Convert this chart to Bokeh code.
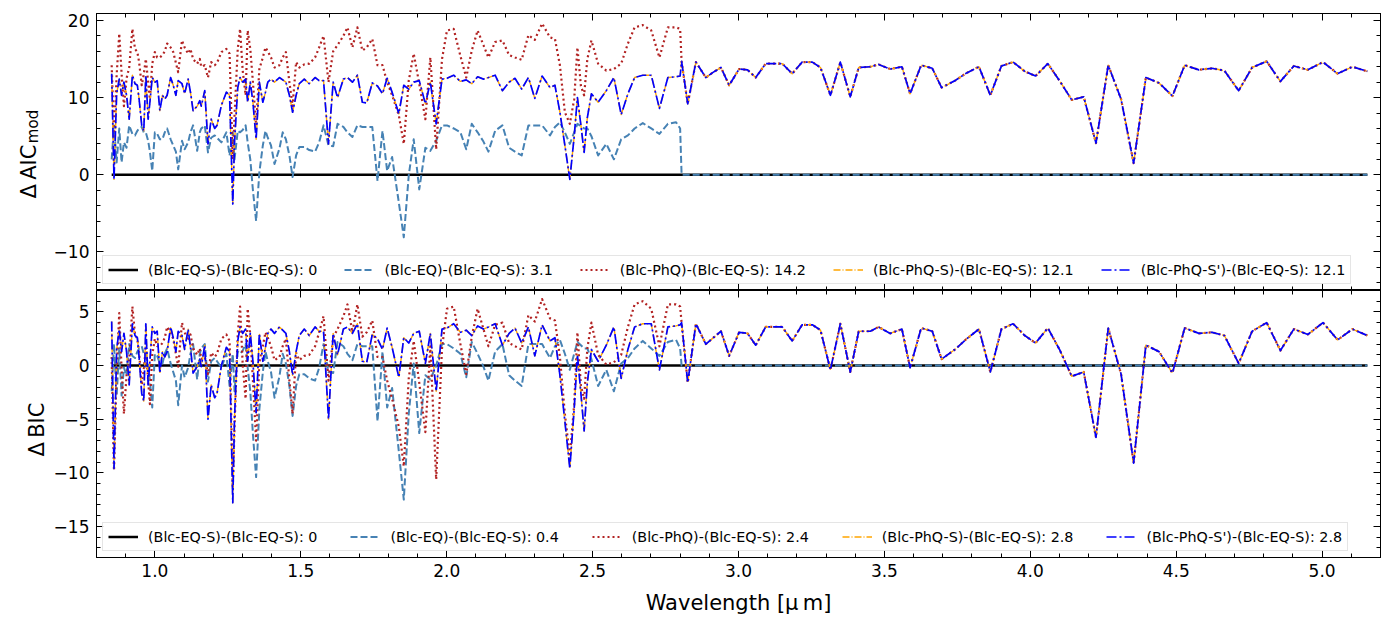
import math
from bokeh.plotting import figure
from bokeh.models import (ColumnDataSource, Range1d, LinearAxis, SingleIntervalTicker, FixedTicker,
                          CustomJSTickFormatter, Legend, LegendItem, Label)
from bokeh.layouts import column, row
from bokeh.embed import file_html
from bokeh.resources import INLINE

FONT = "DejaVu Sans"

# ---------------- data ----------------
# wavelength grid, dense (short-wavelength) part
wl_dense = [
    0.852, 0.860, 0.869, 0.878, 0.886, 0.894, 0.903, 0.912, 0.923, 0.932,
    0.940, 0.946, 0.955, 0.962, 0.969, 0.977, 0.983, 0.991, 1.000, 1.008,
    1.017, 1.026, 1.034, 1.042, 1.054, 1.063, 1.072, 1.080, 1.093, 1.102,
    1.114, 1.122, 1.131, 1.145, 1.154, 1.159, 1.171, 1.182, 1.193, 1.205,
    1.213, 1.228, 1.245, 1.256, 1.267, 1.273, 1.284, 1.292, 1.301, 1.311,
    1.318, 1.327, 1.336, 1.347, 1.358, 1.370, 1.379, 1.387, 1.398, 1.410,
    1.427, 1.438, 1.449, 1.461, 1.472, 1.484, 1.495, 1.512, 1.529, 1.549,
    1.563, 1.578, 1.595, 1.611, 1.626, 1.646, 1.660, 1.677, 1.694, 1.711,
    1.726, 1.745, 1.763, 1.780, 1.796, 1.813, 1.836, 1.853, 1.870, 1.887,
    1.906, 1.927, 1.944, 1.964, 1.984, 2.001, 2.024, 2.047, 2.067, 2.086,
    2.106, 2.126, 2.143, 2.166, 2.191, 2.214, 2.234, 2.257, 2.280, 2.302,
    2.327, 2.354, 2.371, 2.388, 2.405, 2.422, 2.437, 2.448, 2.460, 2.471,
    2.482, 2.496, 2.519, 2.547, 2.573, 2.598, 2.621, 2.644, 2.672, 2.701,
    2.729, 2.758, 2.786, 2.800,
]
# wavelength grid, coarse (long-wavelength) part
wl_coarse = [
    2.805, 2.826, 2.854, 2.888, 2.914, 2.940, 2.968, 3.002, 3.031, 3.059,
    3.093, 3.122, 3.150, 3.184, 3.218, 3.253, 3.281, 3.315, 3.349, 3.383,
    3.412, 3.452, 3.480, 3.520, 3.560, 3.588, 3.626, 3.664, 3.696, 3.742,
    3.782, 3.824, 3.863, 3.901, 3.941, 3.981, 4.018, 4.060, 4.100, 4.142,
    4.183, 4.225, 4.267, 4.311, 4.354, 4.396, 4.441, 4.487, 4.529, 4.578,
    4.623, 4.665, 4.714, 4.760, 4.810, 4.857, 4.903, 4.951, 5.003, 5.053,
    5.104, 5.155,
]

# Delta AIC_mod, dense part
aic_phqs_dense = [
    13.1, -0.6, 10.5, 12.4, 10.3, 12.0, 10.3, 7.2, 12.9, 11.8,
    11.6, 9.8, 6.4, 5.7, 12.9, 7.2, 9.4, 12.6, 12.0, 12.2,
    8.3, 10.3, 9.8, 10.3, 12.6, 11.6, 10.3, 12.2, 11.8, 10.5,
    12.4, 10.7, 8.3, 8.9, 9.6, 8.9, 10.9, 4.0, 7.2, 6.0,
    6.4, 9.0, 10.7, 10.3, -3.8, 4.2, 11.3, 12.6, 12.0, 12.4,
    9.4, 12.0, 9.4, 4.6, 12.0, 9.4, 10.7, 12.0, 12.4, 12.0,
    12.6, 12.3, 12.0, 10.3, 8.1, 10.3, 11.8, 12.4, 11.8, 12.6,
    12.2, 12.2, 4.0, 12.0, 10.0, 12.4, 12.6, 12.0, 12.9, 9.4,
    9.3, 11.9, 11.5, 10.5, 12.5, 10.7, 7.9, 11.6, 11.1, 12.0,
    12.2, 9.2, 12.0, 6.6, 12.4, 12.5, 12.9, 12.1, 12.3, 11.8,
    12.7, 12.4, 12.6, 12.9, 10.9, 12.0, 12.5, 11.1, 12.6, 9.9,
    12.8, 11.3, 11.6, 8.1, 3.8, -0.6, 5.0, 10.0, 6.4, 2.9,
    7.4, 10.5, 9.4, 10.9, 12.6, 7.8, 10.5, 12.6, 12.9, 12.9,
    8.6, 12.6, 12.7, 12.8,
]
aic_phq_dense = [
    14.2, 5.0, 12.9, 18.3, 13.1, 8.9, 12.5, 13.9, 18.9, 16.3,
    15.9, 14.6, 11.6, 13.0, 15.0, 12.0, 9.8, 14.4, 15.9, 15.2,
    15.2, 15.5, 16.0, 17.0, 16.5, 15.9, 14.5, 13.3, 17.4, 16.5,
    15.7, 16.3, 15.0, 14.4, 15.0, 14.0, 14.2, 12.6, 14.6, 14.2,
    14.5, 15.9, 16.3, 15.7, 2.0, 7.7, 16.3, 18.9, 13.5, 10.3,
    18.7, 16.3, 12.0, 6.4, 13.7, 15.2, 16.5, 16.0, 15.2, 13.9,
    14.2, 15.2, 15.9, 12.0, 8.9, 14.6, 13.9, 14.3, 14.4, 15.2,
    16.5, 18.0, 12.0, 16.0, 16.8, 18.0, 19.1, 16.5, 19.1, 16.1,
    16.5, 17.6, 14.2, 14.2, 12.0, 10.3, 7.7, 4.0, 12.2, 15.7,
    11.8, 7.2, 15.2, 3.3, 15.0, 18.7, 18.9, 15.4, 12.6, 16.1,
    18.7, 16.8, 15.2, 17.2, 17.4, 15.5, 15.2, 14.9, 18.1, 17.5,
    19.6, 17.8, 17.6, 14.2, 8.1, 6.6, 9.8, 16.5, 11.5, 10.3,
    15.0, 17.4, 14.4, 13.5, 13.7, 14.4, 17.0, 19.1, 19.4, 18.7,
    15.2, 19.1, 19.1, 18.9,
]
aic_eq_dense = [
    2.0, 6.4, 1.6, 6.0, 1.6, 4.2, 3.5, 6.4, 5.3, 5.1,
    5.7, 6.0, 6.2, 5.5, 5.5, 4.4, 3.0, 0.5, 5.5, 5.3,
    4.6, 4.6, 5.5, 6.0, 4.6, 3.8, 3.0, 0.7, 4.4, 3.3,
    4.2, 5.5, 6.4, 3.1, 5.5, 6.0, 6.4, 2.9, 4.8, 5.1,
    4.8, 4.2, 5.5, 2.5, 5.5, 2.0, 5.7, 5.5, 5.8, 6.4,
    4.2, 2.0, -2.0, -6.0, 0.3, 3.8, 5.7, 4.8, 3.8, 1.4,
    3.4, 5.5, 4.6, 2.5, -0.3, 2.5, 3.6, 3.6, 3.2, 3.0,
    4.2, 6.4, 3.8, 3.7, 6.6, 6.2, 5.5, 4.9, 6.4, 6.2,
    6.2, 6.2, -0.8, 5.7, 0.5, 2.3, -3.6, -8.1, -0.1, 4.6,
    -1.9, 3.5, 3.1, 4.4, 6.4, 6.4, 6.0, 5.5, 3.3, 6.6,
    5.5, 4.3, 3.0, 5.7, 6.4, 3.5, 3.0, 2.5, 6.4, 6.4,
    6.4, 5.1, 6.2, 6.8, 5.5, 4.0, 5.5, 6.6, 6.3, 6.0,
    6.0, 5.0, 2.5, 4.0, 2.0, 4.6, 5.1, 6.0, 6.7, 6.0,
    5.3, 6.6, 6.8, 6.0,
]
# Delta AIC_mod, coarse part (PhQ, PhQ-S and PhQ-S' coincide here)
aic_phqs_coarse = [
    14.7, 9.2, 14.6, 12.6, 13.3, 13.9, 11.6, 13.7, 13.6, 12.6,
    14.4, 14.4, 14.4, 13.1, 14.6, 14.6, 13.9, 10.3, 14.6, 10.1,
    13.9, 14.0, 14.3, 13.7, 14.0, 10.5, 14.2, 13.8, 11.3, 12.2,
    13.2, 14.0, 10.3, 14.1, 14.6, 13.4, 12.8, 14.4, 12.2, 9.7,
    10.1, 4.1, 14.2, 9.8, 1.5, 12.6, 11.9, 10.2, 14.2, 13.6,
    13.8, 13.5, 10.9, 13.9, 14.7, 12.1, 14.1, 13.6, 14.6, 13.1,
    14.0, 13.4,
]

# Delta BIC, dense part
bic_phqs_dense = [
    4.1, -9.6, 1.5, 3.4, 1.3, 3.0, 1.3, -1.8, 3.9, 2.8,
    2.6, 0.8, -2.6, -3.3, 3.9, -1.8, 0.4, 3.6, 3.0, 3.2,
    -0.7, 1.3, 0.8, 1.3, 3.6, 2.6, 1.3, 3.2, 2.8, 1.5,
    3.4, 1.7, -0.7, -0.1, 0.6, -0.1, 1.9, -5.0, -1.8, -3.0,
    -2.6, 0.0, 1.7, 1.3, -12.8, -4.8, 2.3, 3.6, 3.0, 3.4,
    0.4, 3.0, 0.4, -4.4, 3.0, 0.4, 1.7, 3.0, 3.4, 3.0,
    3.6, 3.3, 3.0, 1.3, -0.9, 1.3, 2.8, 3.4, 2.8, 3.6,
    3.2, 3.2, -5.0, 3.0, 1.0, 3.4, 3.6, 3.0, 3.9, 0.4,
    0.3, 2.9, 2.5, 1.5, 3.5, 1.7, -1.1, 2.6, 2.1, 3.0,
    3.2, 0.2, 3.0, -2.4, 3.4, 3.5, 3.9, 3.1, 3.3, 2.8,
    3.7, 3.4, 3.6, 3.9, 1.9, 3.0, 3.5, 2.1, 3.6, 0.9,
    3.8, 2.3, 2.6, -0.9, -5.2, -9.6, -4.0, 1.0, -2.6, -6.1,
    -1.6, 1.5, 0.4, 1.9, 3.6, -1.2, 1.5, 3.6, 3.9, 3.9,
    -0.4, 3.6, 3.7, 3.8,
]
bic_phq_dense = [
    0.8, -9.8, -0.5, 4.9, -0.3, -4.5, -0.9, 0.5, 5.5, 2.9,
    2.5, 1.2, -1.8, -0.4, 1.6, -1.4, -3.6, 1.0, 2.5, 1.8,
    1.8, 2.1, 2.6, 3.6, 3.1, 2.5, 1.1, -0.1, 4.0, 3.1,
    2.3, 2.9, 1.6, 1.0, 1.6, 0.6, 0.8, -0.8, 1.2, 0.8,
    1.1, 2.5, 2.9, 2.3, -11.4, -5.7, 2.9, 5.5, 0.1, -3.1,
    5.3, 2.9, -1.4, -7.0, 0.3, 1.8, 3.1, 2.6, 1.8, 0.5,
    0.8, 1.8, 2.5, -1.4, -4.5, 1.2, 0.5, 0.9, 1.0, 1.8,
    3.1, 4.6, -1.4, 2.6, 3.4, 4.6, 5.7, 3.1, 5.7, 2.7,
    3.1, 4.2, 0.8, 0.8, -1.4, -3.1, -5.7, -9.4, -1.2, 2.3,
    -1.6, -6.2, 1.8, -10.6, 1.6, 5.3, 5.5, 2.0, -0.8, 2.7,
    5.3, 3.4, 1.8, 3.8, 4.0, 2.1, 1.8, 1.5, 4.7, 4.1,
    6.2, 4.4, 4.2, 0.8, -4.5, -8.5, -3.6, 3.1, -1.9, -3.1,
    1.6, 4.0, 1.0, 0.1, 0.3, 1.0, 3.6, 5.7, 6.0, 5.3,
    1.8, 5.7, 5.7, 5.5,
]
bic_eq_dense = [
    -2.4, 2.0, -2.8, 1.6, -2.8, -0.2, -0.9, 2.0, 0.9, 0.7,
    1.3, 1.6, 1.8, 1.1, 1.1, 0.0, -1.4, -3.9, 1.1, 0.9,
    0.2, 0.2, 1.1, 1.6, 0.2, -0.6, -1.4, -3.7, 0.0, -1.1,
    -0.2, 1.1, 2.0, -1.3, 1.1, 1.6, 2.0, -1.5, 0.4, 0.7,
    0.4, -0.2, 1.1, -1.9, 1.1, -2.4, 1.3, 1.1, 1.4, 2.0,
    -0.2, -2.4, -6.4, -10.4, -4.1, -0.6, 1.3, 0.4, -0.6, -3.0,
    -1.0, 1.1, 0.2, -1.9, -4.7, -1.9, -0.8, -0.8, -1.2, -1.4,
    -0.2, 2.0, -0.6, -0.7, 2.2, 1.8, 1.1, 0.5, 2.0, 1.8,
    1.8, 1.8, -5.2, 1.3, -3.9, -2.1, -8.0, -12.5, -4.5, 0.2,
    -6.3, -0.9, -1.3, 0.0, 2.0, 2.0, 1.6, 1.1, -1.1, 2.2,
    1.1, -0.1, -1.4, 1.3, 2.0, -0.9, -1.4, -1.9, 2.0, 2.0,
    2.0, 0.7, 1.8, 2.4, 1.1, -0.4, 1.1, 2.2, 1.9, 1.6,
    1.6, 0.6, -1.9, -0.4, -2.4, 0.2, 0.7, 1.6, 2.3, 1.6,
    0.9, 2.2, 2.4, 1.6,
]
bic_phqs_coarse = [
    4.0, -1.6, 3.9, 2.0, 2.6, 3.2, 0.9, 3.1, 3.0, 1.9,
    3.6, 3.6, 3.6, 2.3, 3.8, 3.8, 3.3, -0.4, 3.9, -0.6,
    3.2, 3.2, 3.6, 3.0, 3.4, -0.2, 3.5, 3.2, 0.6, 1.5,
    2.5, 3.4, -0.6, 3.4, 3.9, 2.8, 2.1, 3.5, 1.5, -1.0,
    -0.6, -6.7, 3.5, -0.8, -9.1, 1.9, 1.3, -0.7, 3.5, 3.0,
    3.1, 2.8, 0.2, 3.2, 4.0, 1.4, 3.4, 2.9, 4.0, 2.4,
    3.4, 2.8,
]

labels_aic = ["(Blc-EQ-S)-(Blc-EQ-S): 0", "(Blc-EQ)-(Blc-EQ-S): 3.1",
              "(Blc-PhQ)-(Blc-EQ-S): 14.2", "(Blc-PhQ-S)-(Blc-EQ-S): 12.1",
              "(Blc-PhQ-S')-(Blc-EQ-S): 12.1"]
labels_bic = ["(Blc-EQ-S)-(Blc-EQ-S): 0", "(Blc-EQ)-(Blc-EQ-S): 0.4",
              "(Blc-PhQ)-(Blc-EQ-S): 2.4", "(Blc-PhQ-S)-(Blc-EQ-S): 2.8",
              "(Blc-PhQ-S')-(Blc-EQ-S): 2.8"]

# tick positions (major / minor) of the unlabeled frame sides
x_major = [1.0, 1.5, 2.0, 2.5, 3.0, 3.5, 4.0, 4.5, 5.0]
x_minor = [round(0.8 + 0.1 * i, 1) for i in range(45)]
aic_major = [-10, 0, 10, 20]
aic_minor = list(range(-14, 21, 2))
bic_major = [-15, -10, -5, 0, 5]
bic_minor = list(range(-17, 7))


def build_source(eq_d, phq_d, phqs_d, phqs_c):
    wl = wl_dense + wl_coarse
    return ColumnDataSource(dict(
        wl=wl,
        base=[0.0] * len(wl),
        eq=eq_d + [0.0] * len(wl_coarse),
        phq=phq_d + phqs_c,
        phqs=phqs_d + phqs_c,
    ))


STYLES = [
    ("base", "black", 2.5, "solid"),
    ("eq", "steelblue", 2, "7 3"),
    ("phq", "firebrick", 2.2, "2 3"),
    ("phqs", "orange", 1.4, "7 2 1 2"),
    ("phqs", "blue", 1.7, "10 3 2 3"),
]

LABEL_W = 50          # width of the column holding the y-axis titles
PLOT_W = 1381 - LABEL_W
x_range = Range1d(0.8, 5.2)

yfmt = CustomJSTickFormatter(code="return (tick < 0 ? '\\u2212' : '') + Math.abs(tick).toFixed(0);")
xfmt = CustomJSTickFormatter(code="return tick.toFixed(1);")


def labeled_axis(p, loc, ticker, fmt, standoff):
    ax = LinearAxis(ticker=ticker, formatter=fmt)
    ax.axis_line_color = "black"
    ax.axis_line_width = 1
    ax.major_tick_in = 7
    ax.major_tick_out = 0
    ax.minor_tick_in = 4
    ax.minor_tick_out = 0
    ax.major_tick_line_color = "black"
    ax.minor_tick_line_color = "black"
    ax.major_label_text_font = FONT
    ax.major_label_text_font_size = "17px"
    ax.major_label_text_color = "black"
    ax.major_label_standoff = standoff
    p.add_layout(ax, loc)
    return ax


def tick_only_axes(p, loc, majors, minors):
    # ticks drawn as "minor" ticks of fixed tickers, so that no tick labels exist
    minors = [v for v in minors if all(abs(v - m) > 1e-6 for m in majors)]
    for vals, length in [(minors, 4), (majors, 7)]:
        ax = LinearAxis(ticker=FixedTicker(ticks=[], minor_ticks=vals))
        ax.axis_line_color = "black"
        ax.axis_line_width = 1
        ax.major_tick_in = 0
        ax.major_tick_out = 0
        ax.minor_tick_in = length
        ax.minor_tick_out = 0
        ax.minor_tick_line_color = "black"
        ax.major_label_standoff = 0
        p.add_layout(ax, loc)


def make_panel(src, height, b_top, b_bottom, y_lo, y_hi, y_int, y_major, y_minor,
               labels, spacing, x_labels):
    p = figure(width=PLOT_W, height=height, x_range=x_range, y_range=Range1d(y_lo, y_hi),
               output_backend="svg", toolbar_location=None,
               x_axis_location=None, y_axis_location=None,
               min_border_left=92 - LABEL_W, min_border_right=1,
               min_border_top=b_top, min_border_bottom=b_bottom,
               background_fill_color="white", border_fill_color="white",
               outline_line_color="black", outline_line_width=1)
    p.xgrid.visible = False
    p.ygrid.visible = False
    axes = {}
    axes["left"] = labeled_axis(p, "left", SingleIntervalTicker(interval=y_int, num_minor_ticks=5), yfmt, 7)
    tick_only_axes(p, "right", y_major, y_minor)
    tick_only_axes(p, "above", x_major, x_minor)
    if x_labels:
        axes["below"] = labeled_axis(p, "below", SingleIntervalTicker(interval=0.5, num_minor_ticks=5), xfmt, 6)
    else:
        tick_only_axes(p, "below", x_major, x_minor)

    rends = []
    for col, color, lw, dash in STYLES:
        r = p.line("wl", col, source=src, line_color=color, line_width=lw,
                   line_dash=dash, line_join="round")
        rends.append(r)
    items = [LegendItem(label=l, renderers=[r]) for l, r in zip(labels, rends)]
    leg = Legend(items=items, orientation="horizontal", location="bottom_left",
                 label_text_font=FONT, label_text_font_size="14.3px", label_text_color="black",
                 glyph_width=30, glyph_height=15, label_height=17, label_standoff=10,
                 spacing=spacing, padding=5, margin=6,
                 border_line_color="#cccccc", border_line_width=1,
                 background_fill_color="white", background_fill_alpha=0.8)
    p.add_layout(leg)
    return p, axes


def title_fig(height):
    f = figure(width=LABEL_W, height=height, x_range=Range1d(0, 1), y_range=Range1d(0, 1),
               output_backend="svg", toolbar_location=None,
               x_axis_location=None, y_axis_location=None,
               min_border=0, outline_line_color=None,
               background_fill_color="white", border_fill_color="white")
    f.xgrid.visible = False
    f.ygrid.visible = False
    return f


src_aic = build_source(aic_eq_dense, aic_phq_dense, aic_phqs_dense, aic_phqs_coarse)
src_bic = build_source(bic_eq_dense, bic_phq_dense, bic_phqs_dense, bic_phqs_coarse)

p1, ax1 = make_panel(src_aic, 290, 13, 0, -15.0, 20.9, 10, aic_major, aic_minor,
                     labels_aic, 27, False)
p2, ax2 = make_panel(src_bic, 327, 0, 50, -17.9, 7.0, 5, bic_major, bic_minor,
                     labels_bic, 33, True)

ax2["below"].axis_label = "Wavelength [μ\u2009m]"
ax2["below"].axis_label_text_font = FONT
ax2["below"].axis_label_text_font_size = "21px"
ax2["below"].axis_label_text_font_style = "normal"
ax2["below"].axis_label_text_color = "black"
ax2["below"].axis_label_standoff = 11

t1 = title_fig(290)
t1.add_layout(Label(x=28, y=119, x_units="screen", y_units="screen", text="Δ\u2009AIC",
                    angle=math.pi / 2, text_align="center", text_baseline="alphabetic",
                    text_font=FONT, text_font_size="21px", text_color="black"))
t1.add_layout(Label(x=32, y=164, x_units="screen", y_units="screen", text="mod",
                    angle=math.pi / 2, text_align="center", text_baseline="alphabetic",
                    text_font=FONT, text_font_size="15px", text_color="black"))
t2 = title_fig(327)
t2.add_layout(Label(x=36, y=188, x_units="screen", y_units="screen", text="Δ\u2009BIC",
                    angle=math.pi / 2, text_align="center", text_baseline="alphabetic",
                    text_font=FONT, text_font_size="21px", text_color="black"))

layout = row(column(t1, t2), column(p1, p2))
open("out.html", "w").write(file_html(layout, INLINE))
